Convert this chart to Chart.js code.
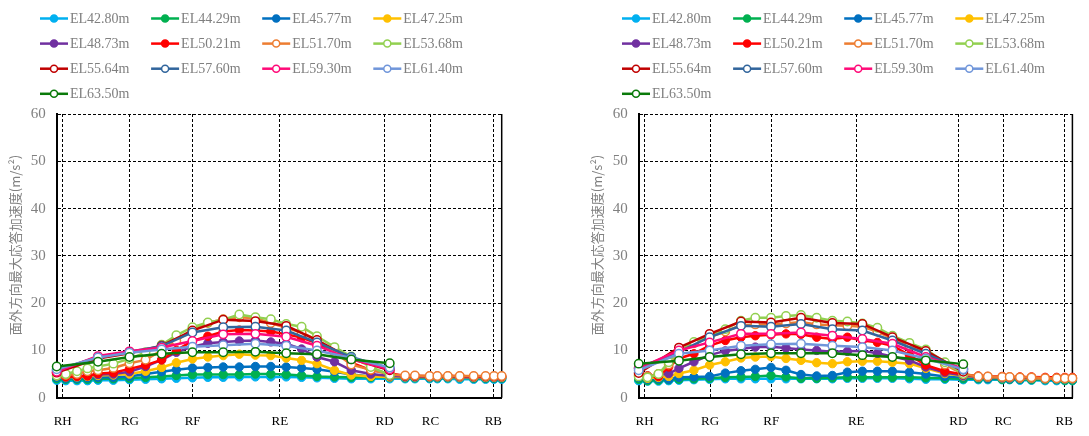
<!DOCTYPE html>
<html>
<head>
<meta charset="utf-8">
<script src="https://cdn.jsdelivr.net/npm/chart.js@4"></script>
<style>
  html, body { margin: 0; padding: 0; background: #fff; }
  #wrap { position: relative; width: 1089px; height: 436px; overflow: hidden; }
  .box { position: absolute; top: 0; height: 436px; }
</style>
</head>
<body>
<div id="wrap">
  <div class="box" style="left:0;width:545px"><canvas id="c1" width="545" height="436"></canvas></div>
  <div class="box" style="left:582px;width:507px"><canvas id="c2" width="507" height="436"></canvas></div>
</div>
<script>
// axis lines (grid positions along the wall, m)
const tickNames = ['RH', 'RG', 'RF', 'RE', 'RD', 'RC', 'RB'];
const tickPos = [0.86, 10.47, 19.43, 31.9, 46.86, 53.43, 62.4];
const yTitleText = '面外方向最大応答加速度(m/s²)';

const seriesNames = ['EL42.80m', 'EL44.29m', 'EL45.77m', 'EL47.25m', 'EL48.73m', 'EL50.21m', 'EL51.70m',
                     'EL53.68m', 'EL55.64m', 'EL57.60m', 'EL59.30m', 'EL61.40m', 'EL63.50m'];
const colors = ['#00B0F0', '#00B050', '#0070C0', '#FFC000', '#7030A0', '#FF0000', '#ED7D31',
                '#92D050', '#C00000', '#31659C', '#FF0A78', '#7096DA', '#0A7A0A'];

// x positions of the output points
const xDense = [0, 1.3, 2.9, 4.4, 5.9, 8.1, 10.4, 12.7, 15.0, 17.1, 19.4, 21.6, 23.8, 26.1, 28.4, 30.6, 32.8, 35.0, 37.2, 39.7, 42.1, 44.9, 47.6];
const xTail = [49.8, 51.2, 53.3, 54.4, 55.9, 57.6, 59.6, 61.3, 62.5, 63.6];
const xSparse = [0, 5.9, 10.4, 15.0, 19.4, 23.8, 28.4, 32.8, 37.2, 42.1, 47.6];

// left chart
const left4280 = [3.7, 3.6, 3.6, 3.6, 3.7, 3.7, 3.8, 3.9, 4.0, 4.1, 4.2, 4.3, 4.3, 4.4, 4.4, 4.4, 4.4, 4.3, 4.2, 4.1, 4.0, 4.0, 4.0,
                  4.0, 4.0, 4.0, 4.0, 4.0, 3.9, 3.9, 3.9, 3.9, 3.9];
const left4429 = [4.0, 3.9, 3.9, 3.9, 4.0, 4.0, 4.1, 4.3, 4.5, 4.7, 4.9, 4.9, 4.9, 4.9, 5.0, 5.0, 4.9, 4.7, 4.5, 4.4, 4.3, 4.3, 4.3,
                  4.2, 4.2, 4.2, 4.2, 4.2, 4.2, 4.1, 4.1, 4.1, 4.1];
const left4577 = [4.3, 4.1, 4.1, 4.2, 4.3, 4.3, 4.5, 5.0, 5.5, 5.9, 6.3, 6.4, 6.5, 6.5, 6.6, 6.6, 6.5, 6.3, 6.0, 5.5, 4.9, 4.5, 4.4,
                  4.3, 4.3, 4.3, 4.3, 4.3, 4.3, 4.2, 4.2, 4.2, 4.2];
const left4725 = [4.6, 4.4, 4.4, 4.5, 4.7, 4.8, 5.0, 5.6, 6.4, 7.4, 8.2, 8.6, 8.9, 9.2, 9.0, 8.9, 8.4, 7.9, 7.2, 5.8, 4.8, 4.5, 4.4,
                  4.4, 4.4, 4.4, 4.4, 4.4, 4.3, 4.3, 4.3, 4.3, 4.3];
const left4873 = [5.0, 4.6, 4.6, 4.7, 4.9, 5.0, 5.5, 6.6, 8.0, 9.6, 10.8, 11.5, 11.8, 12.0, 12.1, 11.8, 11.4, 10.3, 8.6, 7.6, 5.8, 5.0, 4.6,
                  4.5, 4.5, 4.5, 4.5, 4.5, 4.4, 4.4, 4.4, 4.4, 4.4];
const left5021 = [5.0, 4.4, 4.5, 4.6, 5.1, 5.3, 6.1, 6.9, 8.0, 10.0, 12.0, 13.0, 14.0, 14.3, 14.2, 14.0, 13.4, 12.7, 11.5, 9.5, 7.4, 5.8, 5.2,
                  4.6, 4.6, 4.6, 4.6, 4.6, 4.6, 4.5, 4.5, 4.5, 4.5];
const left5170 = [5.2, 4.8, 5.0, 5.6, 5.8, 6.3, 7.3, 8.0, 10.0, 12.0, 14.5, 15.8, 16.6, 17.0, 16.8, 15.8, 14.8, 13.8, 12.2, 9.6, 7.0, 5.9, 4.9,
                  4.7, 4.7, 4.6, 4.6, 4.6, 4.6, 4.6, 4.6, 4.6, 4.6];
const left5368 = [4.7, 5.0, 5.6, 6.2, 6.6, 7.2, 8.2, 9.6, 11.2, 13.2, 14.9, 15.9, 16.5, 17.6, 17.0, 16.6, 15.6, 15.0, 13.0, 10.7, 8.7, 6.5, 4.8];
const left5564 = [5.3, 8.3, 9.4, 11.0, 14.2, 16.5, 16.2, 15.2, 12.2, 8.2, 5.8];
const left5760 = [5.8, 8.6, 9.7, 10.9, 13.8, 14.9, 15.0, 14.2, 11.7, 8.6, 6.2];
const left5930 = [5.5, 8.8, 9.8, 10.6, 12.0, 13.4, 13.5, 12.9, 11.0, 8.1, 6.0];
const left6140 = [6.0, 8.5, 9.5, 10.2, 10.8, 11.1, 11.4, 11.0, 10.0, 8.4, 6.4];
const left6350 = [6.6, 7.6, 8.6, 9.3, 9.6, 9.6, 9.7, 9.4, 9.2, 8.1, 7.3];

// right chart
const right4280 = [3.6, 3.5, 3.5, 3.6, 3.7, 3.8, 3.9, 4.0, 4.0, 4.0, 4.0, 4.0, 4.0, 4.0, 4.0, 4.1, 4.1, 4.1, 4.1, 4.0, 3.9, 3.9, 3.8,
                   3.8, 3.8, 3.8, 3.8, 3.7, 3.7, 3.6, 3.6, 3.6, 3.6];
const right4429 = [3.9, 3.6, 3.7, 3.8, 3.9, 4.0, 4.1, 4.3, 4.4, 4.5, 4.7, 4.4, 4.1, 4.1, 4.2, 4.3, 4.3, 4.3, 4.3, 4.3, 4.2, 4.1, 4.0,
                   4.0, 4.0, 3.9, 3.9, 3.9, 3.8, 3.8, 3.8, 3.7, 3.7];
const right4577 = [4.3, 3.9, 4.0, 3.9, 4.3, 4.4, 4.5, 5.2, 5.7, 6.0, 6.4, 5.8, 4.9, 4.6, 4.7, 5.4, 5.6, 5.6, 5.6, 5.4, 5.0, 4.5, 4.4,
                   4.2, 4.1, 4.1, 4.0, 4.0, 4.0, 3.9, 3.9, 3.9, 3.9];
const right4725 = [4.5, 4.1, 4.3, 4.5, 5.1, 5.8, 6.9, 7.6, 8.4, 8.6, 8.7, 8.3, 7.9, 7.4, 7.2, 7.6, 7.7, 7.7, 7.5, 7.2, 6.2, 5.1, 4.6,
                   4.3, 4.3, 4.2, 4.2, 4.1, 4.1, 4.0, 4.0, 4.0, 4.0];
const right4873 = [5.1, 4.6, 4.8, 5.1, 6.2, 7.6, 9.0, 9.9, 10.3, 10.7, 10.8, 10.5, 10.2, 10.0, 9.7, 9.8, 9.9, 9.4, 8.7, 7.9, 6.5, 5.3, 4.7,
                   4.4, 4.4, 4.3, 4.3, 4.2, 4.2, 4.1, 4.1, 4.1, 4.1];
const right5021 = [5.5, 4.6, 4.5, 6.5, 8.3, 9.3, 11.0, 12.1, 12.8, 13.1, 13.3, 13.5, 13.4, 12.8, 12.4, 12.8, 12.1, 11.7, 11.0, 9.0, 6.9, 5.6, 4.9,
                   4.6, 4.5, 4.5, 4.4, 4.4, 4.4, 4.3, 4.3, 4.3, 4.3];
const right5170 = [4.8, 4.5, 5.0, 7.0, 9.5, 11.5, 12.8, 14.0, 15.3, 15.5, 15.5, 15.7, 16.0, 15.5, 15.3, 15.2, 15.0, 14.0, 12.5, 11.0, 9.5, 7.0, 5.0,
                   4.5, 4.5, 4.4, 4.4, 4.3, 4.3, 4.1, 4.1, 4.1, 4.1];
const right5368 = [4.5, 4.3, 5.0, 7.5, 9.8, 11.8, 13.0, 14.5, 16.3, 16.9, 16.9, 17.3, 17.5, 16.9, 16.3, 16.1, 15.7, 14.8, 13.1, 11.6, 10.2, 7.5, 5.0];
const right5564 = [5.2, 10.6, 13.5, 16.1, 15.9, 16.9, 15.8, 15.6, 12.8, 9.9, 5.5];
const right5760 = [6.3, 9.7, 12.8, 15.2, 15.0, 15.6, 14.5, 14.2, 12.1, 9.3, 5.9];
const right5930 = [6.2, 10.0, 11.7, 13.5, 13.5, 13.8, 13.1, 12.4, 11.4, 8.6, 6.2];
const right6140 = [5.8, 9.3, 10.0, 11.0, 11.3, 11.4, 11.0, 10.7, 10.0, 8.3, 6.0];
const right6350 = [7.2, 7.8, 8.6, 9.2, 9.4, 9.4, 9.4, 9.0, 8.6, 7.9, 7.1];

const leftVals = [left4280, left4429, left4577, left4725, left4873, left5021, left5170,
                  left5368, left5564, left5760, left5930, left6140, left6350];
const rightVals = [right4280, right4429, right4577, right4725, right4873, right5021, right5170,
                   right5368, right5564, right5760, right5930, right6140, right6350];

function makeSets(vals) {
  return seriesNames.map(function(name, i) {
    const xs = i < 7 ? xDense.concat(xTail) : (i === 7 ? xDense : xSparse);
    const open = i >= 6;
    return {
      label: name,
      data: xs.map(function(x, k) { return {x: x, y: vals[i][k]}; }),
      borderColor: colors[i],
      backgroundColor: colors[i],
      pointBackgroundColor: open ? '#ffffff' : colors[i],
      pointBorderColor: colors[i],
      pointBorderWidth: open ? 1.5 : 1,
      pointRadius: 4.2,
      borderWidth: 2.5,
      tension: 0,
      clip: false,
      order: seriesNames.length - i
    };
  });
}

// 4-column legend at the top
const legendGrid = {
  id: 'legendGrid',
  afterDraw(chart) {
    const ctx = chart.ctx;
    chart.data.datasets.forEach(function(ds, i) {
      const x = 40 + (i % 4) * 111.1;
      const y = 18.5 + Math.floor(i / 4) * 25.1;
      ctx.save();
      ctx.strokeStyle = ds.borderColor;
      ctx.lineWidth = 2.5;
      ctx.beginPath(); ctx.moveTo(x, y); ctx.lineTo(x + 28, y); ctx.stroke();
      ctx.beginPath(); ctx.arc(x + 14, y, 3.5, 0, Math.PI * 2);
      ctx.fillStyle = ds.pointBackgroundColor; ctx.fill();
      ctx.lineWidth = 1.5; ctx.stroke();
      ctx.fillStyle = '#7f7f7f';
      ctx.font = '14px "Liberation Serif"';
      ctx.textBaseline = 'middle';
      ctx.fillText(ds.label, x + 30, y + 1);
      ctx.restore();
    });
  }
};

// solid right edge of the plot area, plus the rotated y title
const frameExtras = {
  id: 'frameExtras',
  beforeDatasetsDraw(chart) {
    const a = chart.chartArea, ctx = chart.ctx;
    ctx.save();
    ctx.strokeStyle = '#000';
    ctx.lineWidth = 1.5;
    ctx.beginPath(); ctx.moveTo(a.right, a.top); ctx.lineTo(a.right, a.bottom); ctx.stroke();
    ctx.translate(15, 245);
    ctx.rotate(-Math.PI / 2);
    ctx.textAlign = 'center';
    ctx.textBaseline = 'middle';
    ctx.font = '13px "Noto Sans CJK JP"';
    ctx.fillStyle = '#808080';
    ctx.fillText(yTitleText, 0, 0);
    ctx.restore();
  }
};

function makeChart(id, vals, padRight) {
  return new Chart(document.getElementById(id), {
    type: 'line',
    data: { datasets: makeSets(vals) },
    options: {
      responsive: false,
      animation: false,
      events: [],
      layout: { padding: { top: 114, left: 0, right: padRight, bottom: 0 } },
      plugins: { legend: { display: false }, tooltip: { enabled: false } },
      scales: {
        x: {
          type: 'linear', min: 0, max: 63.6,
          afterBuildTicks: function(s) { s.ticks = tickPos.map(function(v) { return {value: v}; }); },
          afterFit: function(s) { s.height = 38.3; },
          ticks: {
            callback: function(v, i) { return tickNames[i]; },
            color: '#000', autoSkip: false, maxRotation: 0, padding: 16,
            font: { family: 'Liberation Serif', size: 13 }
          },
          grid: { color: '#000', lineWidth: 1, drawTicks: false },
          border: { color: '#000', width: 2, dash: [3, 2] }
        },
        y: {
          min: 0, max: 60,
          afterFit: function(s) { s.width = 56.7; },
          ticks: {
            stepSize: 10, color: '#808080', padding: 11,
            font: { family: 'Liberation Serif', size: 15 }
          },
          grid: { color: '#000', lineWidth: 1, drawTicks: false },
          border: { color: '#000', width: 2, dash: [3, 2] }
        }
      }
    },
    plugins: [legendGrid, frameExtras]
  });
}

makeChart('c1', leftVals, 43.3);
makeChart('c2', rightVals, 5);
</script>
</body>
</html>
